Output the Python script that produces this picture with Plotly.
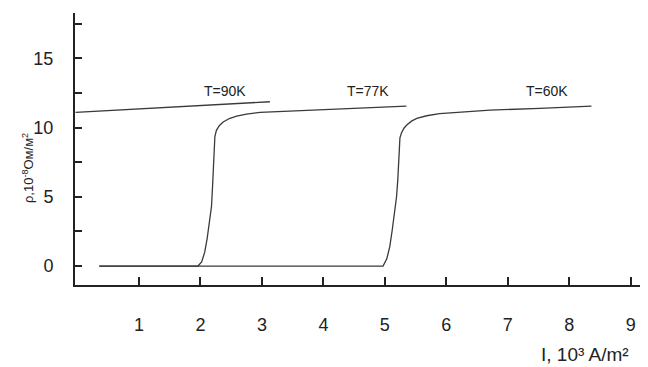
import plotly.graph_objects as go

# Data
i90 = [-0.03, 1.5, 3.13]
rho90 = [11.1, 11.47, 11.86]

i77 = [0.355, 1.96, 2.02, 2.07, 2.11, 2.15, 2.18, 2.20, 2.21, 2.22, 2.235, 2.26, 2.31, 2.37,
       2.47, 2.59, 2.75, 2.97, 3.5, 4.0, 4.6, 5.35]
rho77 = [0, 0, 0.3, 1.0, 2.0, 3.2, 4.3, 6.0, 7.4, 8.6, 9.35, 9.8, 10.15, 10.4,
         10.65, 10.83, 10.97, 11.1, 11.2, 11.28, 11.38, 11.55]

i60 = [0.355, 4.97, 5.03, 5.08, 5.12, 5.16, 5.19, 5.21, 5.22, 5.23, 5.245, 5.27, 5.31, 5.36,
       5.44, 5.52, 5.68, 5.89, 6.3, 6.71, 7.52, 8.36]
rho60 = [0, 0, 0.5, 1.4, 2.6, 3.8, 5.0, 6.2, 7.4, 8.6, 9.25, 9.6, 9.95, 10.2,
         10.48, 10.66, 10.85, 11.0, 11.15, 11.26, 11.38, 11.55]

labels = ["T=90K", "T=77K", "T=60K"]
label_x = [2.40, 4.72, 7.63]
label_y = [12.64, 12.64, 12.64]

x_ticks = [1, 2, 3, 4, 5, 6, 7, 8, 9]
y_ticks = [0, 5, 10, 15]

FONT = "Liberation Sans, Arial, sans-serif"
LINE = "#3a3a3a"

fig = go.Figure()
for xs, ys in [(i90, rho90), (i77, rho77), (i60, rho60)]:
    fig.add_trace(go.Scatter(x=xs, y=ys, mode="lines",
                             line=dict(color=LINE, width=1.3, shape="linear"),
                             showlegend=False, hoverinfo="skip"))

for t, x, y in zip(labels, label_x, label_y):
    fig.add_annotation(x=x, y=y, text=t, showarrow=False,
                       font=dict(family=FONT, size=14, color="#222"))

fig.add_annotation(xref="paper", yref="paper", x=0.89, y=-0.255, xanchor="center", yanchor="middle",
                   text="I, 10³ A/m²", showarrow=False,
                   font=dict(family=FONT, size=19, color="#222"))
fig.add_annotation(xref="paper", yref="paper", x=-0.082, y=0.43, xanchor="center", yanchor="middle",
                   text="ρ,10<sup>-8</sup>Ом/м<sup>2</sup>", textangle=-90, showarrow=False,
                   font=dict(family=FONT, size=13, color="#222"))

fig.update_layout(
    width=640, height=359,
    margin=dict(l=67, r=0, t=5, b=82),
    paper_bgcolor="white", plot_bgcolor="white",
    xaxis=dict(range=[-0.04, 9.28], tickvals=x_ticks, ticks="inside", ticklen=8, tickwidth=2,
               tickcolor="#222", showline=True, linecolor="#222", linewidth=2,
               showgrid=False, zeroline=False, ticklabelstandoff=22,
               tickfont=dict(family=FONT, size=18, color="#222")),
    yaxis=dict(range=[-1.37, 18.27], tickvals=y_ticks, ticks="inside",
               ticklen=7, tickwidth=2, tickcolor="#222", showline=True, linecolor="#222",
               linewidth=2, showgrid=False, zeroline=False, ticklabelstandoff=16,
               minor=dict(tick0=0, dtick=2.5, ticks="inside", ticklen=7, tickwidth=2,
                          tickcolor="#222", showgrid=False),
               tickfont=dict(family=FONT, size=18, color="#222")),
)

fig.write_html("out.html")
